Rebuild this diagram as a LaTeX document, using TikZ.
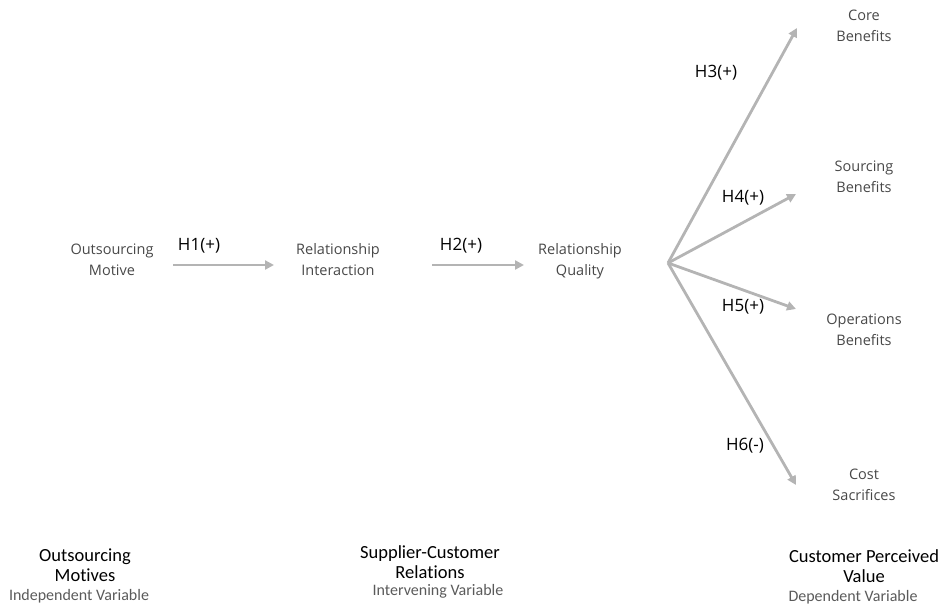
\documentclass[tikz,border=0pt]{standalone}
\usepackage{fontspec}
\setmainfont{Open Sans}
\newfontfamily\labelfont[Ligatures=NoCommon]{Carlito}
\usetikzlibrary{arrows.meta}
\definecolor{linkgray}{HTML}{B4B4B4}
\definecolor{txtgray}{HTML}{484848}
\definecolor{subgray}{HTML}{5A5A5A}
\begin{document}
\begin{tikzpicture}[x=1pt,y=-1pt,
  construct/.style={align=center,text=txtgray,font=\fontsize{14.5}{21}\selectfont,inner sep=0pt},
  hyp/.style={text=black,font=\fontsize{17}{19}\selectfont,inner sep=0pt},
  link/.style={draw=linkgray,line width=2.8pt,-{Triangle[length=9pt,width=9pt]}},
  group/.style={align=center,text=black,font=\labelfont\fontsize{18.5}{20}\selectfont,inner sep=0pt},
  role/.style={text=subgray,font=\labelfont\fontsize{16}{17}\selectfont,inner sep=0pt}]
\useasboundingbox (0,0) rectangle (943,606);
% constructs
\node[construct] (om) at (112,260) {Outsourcing\\Motive};
\node[construct] (ri) at (338,260) {Relationship\\Interaction};
\node[construct] (rq) at (580,261) {Relationship\\Quality};
\node[construct] (cb) at (864,26) {Core\\Benefits};
\node[construct] (sb) at (864,177) {Sourcing\\Benefits};
\node[construct] (ob) at (864,330) {Operations\\Benefits};
\node[construct] (cs) at (864,485) {Cost\\Sacrifices};
% connector ends
\coordinate (h1a) at (173,265);
\coordinate (h1b) at (274,265);
\coordinate (h2a) at (432,265);
\coordinate (h2b) at (524,265);
\coordinate (hub) at (668,263);
\coordinate (e3) at (797,28);
\coordinate (e4) at (796,194);
\coordinate (e5) at (796,309);
\coordinate (e6) at (796,485);
% paths
\draw[link] (h1a) -- (h1b);
\draw[link] (h2a) -- (h2b);
\draw[link] (hub) -- (e3);
\draw[link] (hub) -- (e4);
\draw[link] (hub) -- (e5);
\draw[link] (hub) -- (e6);
% hypothesis labels
\node[hyp] (l1) at (199,246) {H1(+)};
\node[hyp] (l2) at (461,246) {H2(+)};
\node[hyp] (l3) at (716,73) {H3(+)};
\node[hyp] (l4) at (743,198) {H4(+)};
\node[hyp] (l5) at (743,307) {H5(+)};
\node[hyp] (l6) at (745,446) {H6(-)};
% variable groups
\node[group] (g1) at (85,565) {Outsourcing\\Motives};
\node[role] (r1) at (79,596) {Independent Variable};
\node[group] (g2) at (430,562) {Supplier-Customer\\Relations};
\node[role] (r2) at (438,591) {Intervening Variable};
\node[group] (g3) at (864,566) {Customer Perceived\\Value};
\node[role] (r3) at (853,597) {Dependent Variable};
\end{tikzpicture}
\end{document}
